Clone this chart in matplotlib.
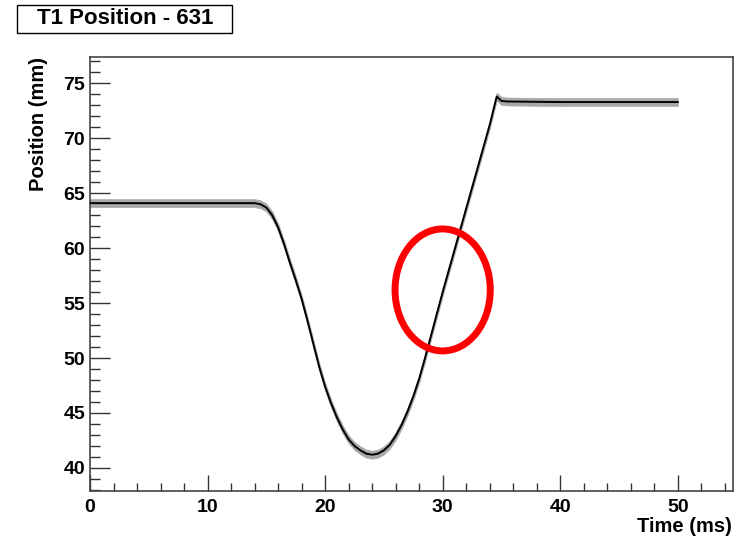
import matplotlib
matplotlib.use("Agg")
import matplotlib.pyplot as plt
from matplotlib.patches import Ellipse, Rectangle
import numpy as np

plt.rcParams['font.family'] = ['Liberation Sans', 'DejaVu Sans']

# --- data ---
time_ms = [0.0, 5.0, 10.0, 14.0, 14.5, 15.0, 15.5, 16.0, 16.5, 17.0, 17.5, 18.0,
           18.5, 19.0, 19.5, 20.0, 20.5, 21.0, 21.5, 22.0, 22.5, 23.0, 23.5,
           24.0, 24.5, 25.0, 25.5, 26.0, 26.5, 27.0, 27.5, 28.0, 28.5, 29.0,
           29.5, 30.0, 30.5, 31.0, 31.5, 32.0, 33.0, 34.0, 34.6, 35.0, 35.5,
           40.0, 45.0, 50.0]
position_mm = [64.1, 64.1, 64.1, 64.1, 64.0, 63.7, 63.0, 61.9, 60.4, 58.7, 57.1, 55.4,
               53.4, 51.3, 49.2, 47.4, 45.9, 44.6, 43.5, 42.6, 42.0, 41.6, 41.3,
               41.2, 41.3, 41.6, 42.1, 42.9, 43.9, 45.1, 46.5, 48.1, 50.0, 52.0,
               54.0, 56.0, 57.9, 59.8, 61.7, 63.6, 67.4, 71.2, 73.8, 73.4, 73.35,
               73.3, 73.3, 73.3]
noise_halfwidth = 0.36

title_text = "T1 Position - 631"
xlabel_text = "Time (ms)"
ylabel_text = "Position (mm)"
x_major = [0, 10, 20, 30, 40, 50]
y_major = [40, 45, 50, 55, 60, 65, 70, 75]
highlight_center = (30.0, 56.2)
highlight_size = (8.1, 11.1)

fig = plt.figure(figsize=(7.48, 5.40), dpi=100)
ax = fig.add_axes([90/748, 49/540, (733-90)/748, (483-49)/540])

t = np.array(time_ms)
p = np.array(position_mm)
ax.fill_between(t, p - noise_halfwidth, p + noise_halfwidth, color='#a8a8a8', lw=0.5, zorder=2)
ax.plot(t, p, color='black', lw=1.4, zorder=3)

ell = Ellipse(highlight_center, highlight_size[0], highlight_size[1], fill=False,
              edgecolor='#ff0000', lw=5.0, zorder=4)
ax.add_patch(ell)

ax.set_xlim(0, 54.7)
ax.set_ylim(37.9, 77.4)
ax.set_xticks(x_major)
ax.set_yticks(y_major)
ax.set_xticks(np.arange(0, 55, 2), minor=True)
ax.set_yticks(np.arange(38, 78, 1), minor=True)

for lab in ax.get_xticklabels() + ax.get_yticklabels():
    lab.set_fontweight('bold')
    lab.set_fontsize(14)

ax.tick_params(axis='y', which='major', direction='in', length=14.4, width=1.0, color='#333333', pad=3.6)
ax.tick_params(axis='y', which='minor', direction='in', length=7.2, width=1.0, color='#333333')
ax.tick_params(axis='x', which='major', direction='in', length=11.5, width=1.0, color='#333333', pad=5.5)
ax.tick_params(axis='x', which='minor', direction='in', length=5.5, width=1.0, color='#333333')
for s in ax.spines.values():
    s.set_color('#444444')
    s.set_linewidth(1.2)

# axis titles (ROOT style: aligned to the axis end)
fig.text(39/748, 1 - 57/540, ylabel_text, rotation=90, ha='center', va='top',
         fontsize=14.5, fontweight='bold')
fig.text(732/748, 1 - 527/540, xlabel_text, ha='right', va='center',
         fontsize=14.5, fontweight='bold')

# title box
fig.patches.append(Rectangle((17/748, 1 - 33/540), (232-17)/748, 28/540,
                             transform=fig.transFigure, fill=True, facecolor='white',
                             edgecolor='black', lw=1.0))
fig.text(125/748, 1 - 19/540, title_text, ha='center', va='center',
         fontsize=16, fontweight='bold')

fig.savefig('out.png', dpi=100)
